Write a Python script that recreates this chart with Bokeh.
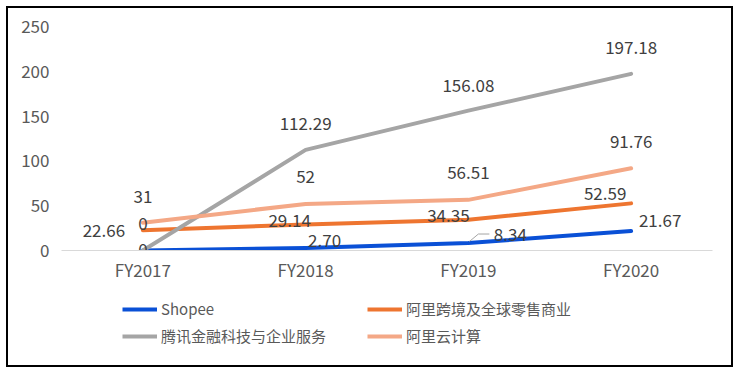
import math
from bokeh.plotting import figure
from bokeh.layouts import column
from bokeh.models import (ColumnDataSource, FixedTicker, Range1d, Legend, LegendItem)
from bokeh.core.properties import value
from bokeh.embed import file_html
from bokeh.resources import INLINE

# ---- data ----
categories = ["FY2017", "FY2018", "FY2019", "FY2020"]
shopee = [0, 2.70, 8.34, 21.67]
ali_cross = [22.66, 29.14, 34.35, 52.59]
tencent_fin = [0, 112.29, 156.08, 197.18]
ali_cloud = [31, 52, 56.51, 91.76]
series_names = ["Shopee", "阿里跨境及全球零售商业", "腾讯金融科技与企业服务", "阿里云计算"]
y_ticks = [0, 50, 100, 150, 200, 250]

# ---- styles ----
colors = ["#0A50D6", "#EE7530", "#A5A5A5", "#F4A886"]
FONT = "Noto Sans CJK SC"
# data-label offsets in pixels (dx, dy) per series / point
offsets = [
    [(0, -1), (19, -8), (42, -9), (29, -11)],
    [(-39, 0), (-16, -4), (-20, -4), (-26, -10)],
    [(0, -27), (0, -26), (0, -25), (0, -26)],
    [(0, -26), (0, -27), (0, -27), (0, -27)],
]

W = 723                  # inner width of the black frame
H1, H2 = 282, 75         # chart part, legend part
L, R, T, B = 53, 19, 12, 40
frame_h = H1 - T - B
px_per_unit = 224 / 250.0
y_end = frame_h / px_per_unit

p = figure(width=W, height=H1, output_backend="svg", toolbar_location=None,
           x_range=Range1d(-0.5, len(categories) - 0.5), y_range=Range1d(0, y_end),
           min_border_left=L, min_border_right=R, min_border_top=T, min_border_bottom=B)
p.outline_line_color = None
p.xgrid.visible = False
p.ygrid.visible = False

xs = list(range(len(categories)))
p.xaxis.ticker = FixedTicker(ticks=xs)
p.xaxis.major_label_overrides = {i: c for i, c in enumerate(categories)}
p.xaxis.axis_line_color = "#D9D9D9"
p.xaxis.major_tick_line_color = None
p.xaxis.minor_tick_line_color = None
p.xaxis.major_tick_out = 0
p.xaxis.major_tick_in = 0
p.xaxis.major_label_standoff = 6
p.xaxis.major_label_text_font = FONT
p.xaxis.major_label_text_font_size = "17px"
p.xaxis.major_label_text_color = "#595959"

p.yaxis.ticker = FixedTicker(ticks=y_ticks)
p.yaxis.axis_line_color = None
p.yaxis.major_tick_line_color = None
p.yaxis.minor_tick_line_color = None
p.yaxis.major_tick_out = 0
p.yaxis.major_tick_in = 0
p.yaxis.major_label_standoff = 12
p.yaxis.major_label_text_font = FONT
p.yaxis.major_label_text_font_size = "17px"
p.yaxis.major_label_text_color = "#595959"

all_series = [shopee, ali_cross, tencent_fin, ali_cloud]
for vals, col in zip(all_series, colors):
    p.line(xs, vals, line_color=col, line_width=4, line_cap="round", line_join="round")


def fmt(v):
    return str(int(v)) if float(v) == int(v) else f"{v:.2f}"


# leader line for the Shopee FY2019 label
lx = 2
ly = shopee[2]
sx = 1.0 / 162.75
p.line([lx + 1 * sx, lx + 10 * sx, lx + 21 * sx],
       [ly + 1.5 / px_per_unit, ly + 9 / px_per_unit, ly + 9 / px_per_unit],
       line_color="#A5A5A5", line_width=1)

tx, ty, tt, dxs, dys = [], [], [], [], []
for vals, offs in zip(all_series, offsets):
    for i, v in enumerate(vals):
        tx.append(xs[i]); ty.append(v); tt.append(fmt(v))
        dxs.append(offs[i][0]); dys.append(offs[i][1])
src = ColumnDataSource(dict(x=tx, y=ty, t=tt, dx=dxs, dy=dys))
p.text(x="x", y="y", text="t", x_offset="dx", y_offset="dy", source=src,
       text_font=value(FONT), text_font_size="17px", text_color="#404040",
       text_align="center", text_baseline="middle")

# ---- legend part (frame is aligned with the chart's frame) ----
p2 = figure(width=W, height=H2, output_backend="svg", toolbar_location=None,
            x_range=Range1d(0, 1), y_range=Range1d(0, 1),
            x_axis_type=None, y_axis_type=None, min_border=0)
p2.outline_line_color = None
nan = float("nan")
leg_renderers = [p2.line([nan], [nan], line_color=c, line_width=4) for c in colors]
legend = Legend(items=[LegendItem(label=n, renderers=[r]) for n, r in zip(series_names, leg_renderers)],
                location=(61, 19), orientation="horizontal", ncols=2,
                glyph_width=35, glyph_height=20, label_height=20, label_width=200,
                label_standoff=4, spacing=6, padding=0, margin=0,
                label_text_font=FONT, label_text_font_size="15px", label_text_color="#595959",
                border_line_color=None, background_fill_alpha=0)
p2.add_layout(legend, "center")

layout = column(p, p2, spacing=0, margin=(8, 0, 0, 8),
                styles={"outline": "2px solid black"})

open("out.html", "w").write(file_html(layout, INLINE))
